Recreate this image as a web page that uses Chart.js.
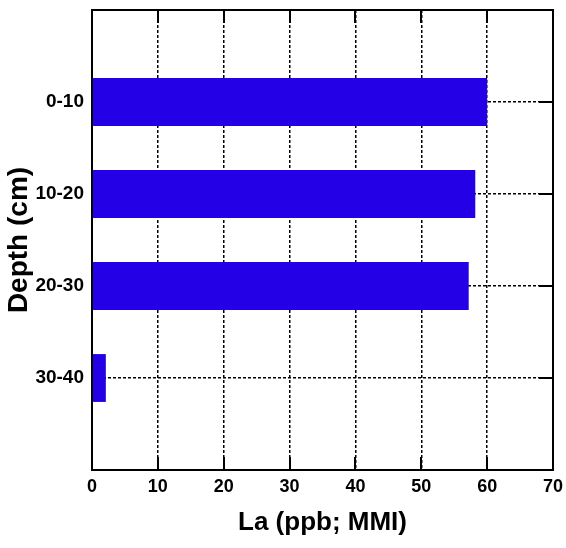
<!DOCTYPE html>
<html>
<head>
<meta charset="utf-8">
<script src="https://cdn.jsdelivr.net/npm/chart.js@4/dist/chart.umd.min.js"></script>
<style>
  html, body { margin: 0; padding: 0; background: #fff; }
  #wrap { width: 566px; height: 548px; }
</style>
</head>
<body>
<div id="wrap"><canvas id="chart" width="566" height="548"></canvas></div>
<script>
const depths = ["0-10", "10-20", "20-30", "30-40"];
const laValues = [60, 58.2, 57.2, 2.1];
const xTicks = [0, 10, 20, 30, 40, 50, 60, 70];

// blank slot above and below so the bars sit like the original
const labels = [""].concat(depths, [""]);
const values = [null].concat(laValues, [null]);

const BLUE = "#2400E6";

// short solid tick marks drawn inside the frame, plus the top/right frame
const innerTicks = {
  id: "innerTicks",
  beforeDatasetsDraw(chart) {
    const { ctx, chartArea: a, scales } = chart;
    ctx.save();
    ctx.strokeStyle = "#000";
    ctx.lineWidth = 2;
    ctx.beginPath();
    xTicks.forEach(v => {
      const px = Math.round(scales.x.getPixelForValue(v));
      ctx.moveTo(px, a.top); ctx.lineTo(px, a.top + 13);
      ctx.moveTo(px, a.bottom); ctx.lineTo(px, a.bottom - 13);
    });
    depths.forEach((d, i) => {
      const py = Math.round(scales.y.getPixelForValue(i + 1));
      ctx.moveTo(a.left, py); ctx.lineTo(a.left + 14, py);
      ctx.moveTo(a.right, py); ctx.lineTo(a.right - 14, py);
    });
    ctx.stroke();
    ctx.restore();
  },
  afterDraw(chart) {
    const { ctx, chartArea: a } = chart;
    ctx.save();
    ctx.strokeStyle = "#000";
    ctx.lineWidth = 2;
    ctx.strokeRect(a.left, a.top, a.right - a.left, a.bottom - a.top);
    ctx.restore();
  }
};

new Chart(document.getElementById("chart"), {
  type: "bar",
  data: {
    labels: labels,
    datasets: [{
      data: values,
      backgroundColor: BLUE,
      borderWidth: 0,
      categoryPercentage: 1,
      barPercentage: 0.52
    }]
  },
  plugins: [innerTicks],
  options: {
    indexAxis: "y",
    responsive: false,
    animation: false,
    layout: { padding: { top: 10, right: 0, left: 2, bottom: 0 } },
    plugins: {
      legend: { display: false },
      tooltip: { enabled: false }
    },
    scales: {
      x: {
        type: "linear",
        min: 0,
        max: 70,
        afterBuildTicks: s => { s.ticks = xTicks.map(v => ({ value: v })); },
        afterFit: s => { s.height = 78; s.paddingRight = 13; s.paddingLeft = 0; },
        grid: {
          color: c => (c.tick && (c.tick.value === 0 || c.tick.value === 70)) ? "rgba(0,0,0,0)" : "#000",
          lineWidth: 1.5,
          drawTicks: false
        },
        border: { display: true, color: "#000", width: 2, dash: [3, 2] },
        ticks: {
          color: "#000",
          padding: 6,
          maxRotation: 0,
          font: { family: "Liberation Sans, Arial, sans-serif", weight: "bold", size: 18 }
        },
        title: {
          display: true,
          text: "La (ppb; MMI)",
          color: "#000",
          padding: { top: 0, bottom: 10 },
          font: { family: "Liberation Sans, Arial, sans-serif", weight: "bold", size: 26 }
        }
      },
      y: {
        type: "category",
        offset: false,
        afterFit: s => { s.width = 90; s.paddingTop = 0; s.paddingBottom = 0; },
        grid: {
          offset: false,
          color: c => (c.index === 0 || c.index === labels.length - 1) ? "rgba(0,0,0,0)" : "#000",
          lineWidth: 1.5,
          drawTicks: false
        },
        border: { display: true, color: "#000", width: 2, dash: [3, 2] },
        ticks: {
          color: "#000",
          padding: 8,
          autoSkip: false,
          font: { family: "Liberation Sans, Arial, sans-serif", weight: "bold", size: 19 }
        },
        title: {
          display: true,
          text: "Depth (cm)",
          color: "#000",
          padding: { top: 0, bottom: 0 },
          font: { family: "Liberation Sans, Arial, sans-serif", weight: "bold", size: 28 }
        }
      }
    }
  }
});
</script>
</body>
</html>
